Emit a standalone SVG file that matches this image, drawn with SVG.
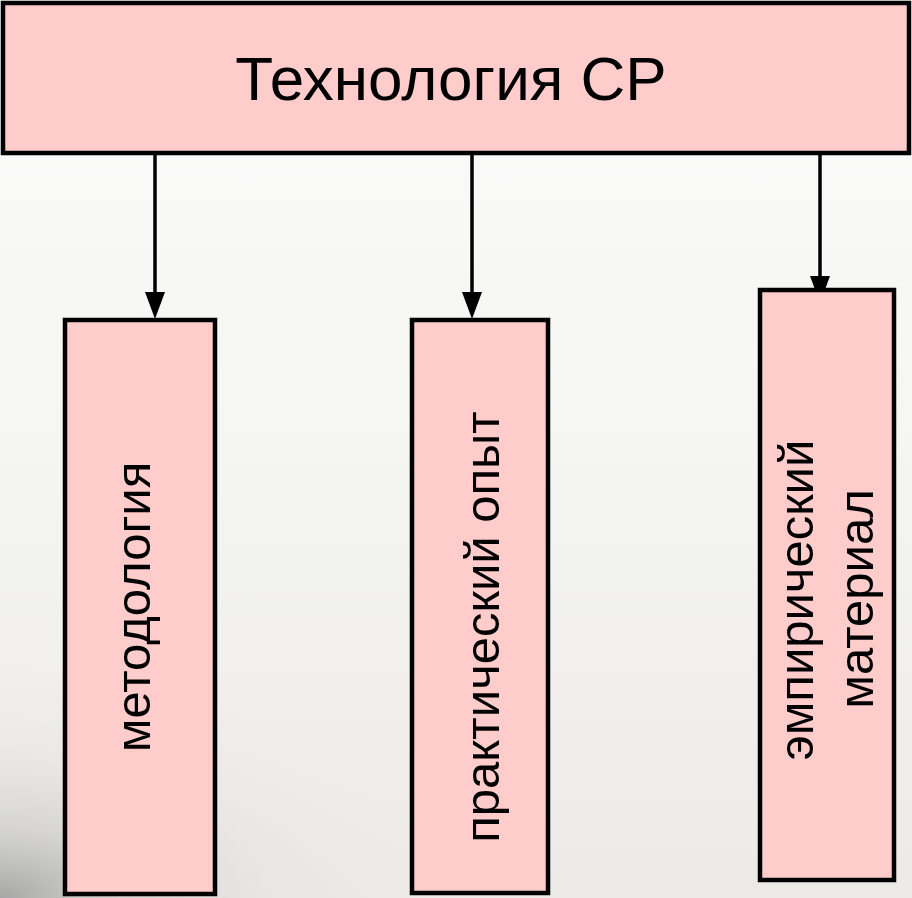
<svg xmlns="http://www.w3.org/2000/svg" width="912" height="898" viewBox="0 0 912 898">
<defs>
<linearGradient id="bg" x1="0" y1="0" x2="0" y2="1">
<stop offset="0" stop-color="#fbfbfb"/>
<stop offset="0.5" stop-color="#f5f5f4"/>
<stop offset="1" stop-color="#ebeae7"/>
</linearGradient>
<radialGradient id="shade" cx="0" cy="898" r="420" gradientUnits="userSpaceOnUse" gradientTransform="translate(0 898) scale(1 0.55) translate(0 -898)">
<stop offset="0" stop-color="#9a9a9a" stop-opacity="0.85"/>
<stop offset="0.3" stop-color="#bdbdbd" stop-opacity="0.5"/>
<stop offset="0.65" stop-color="#d8d8d8" stop-opacity="0.2"/>
<stop offset="1" stop-color="#e6e6e6" stop-opacity="0"/>
</radialGradient>
<style>
.box{fill:#ffcccc;stroke:#000;stroke-width:4.5}
.t{font-family:"Liberation Sans",Arial,sans-serif;fill:#000}
.v{font-size:49px}
.conn{stroke:#000;stroke-width:3.5;fill:none}
.head{fill:#000}
</style>
</defs>
<rect x="0" y="0" width="912" height="898" fill="url(#bg)"/>
<rect x="0" y="500" width="912" height="398" fill="url(#shade)"/>
<g id="connectors">
<line class="conn" x1="155" y1="153" x2="155" y2="296"/>
<path class="head" d="M145,292 L165,292 L155,319 Z"/>
<line class="conn" x1="472" y1="153" x2="472" y2="296"/>
<path class="head" d="M462,292 L482,292 L472,319 Z"/>
<line class="conn" x1="820" y1="153" x2="820" y2="280"/>
<path class="head" d="M810,276 L830,276 L820,303 Z"/>
</g>
<g id="node-top">
<rect class="box" x="3" y="3" width="906" height="150"/>
<text class="t" x="451" y="100" font-size="62" text-anchor="middle">Технология СР</text>
</g>
<g id="node-metodologia">
<rect class="box" x="65" y="320" width="150" height="574"/>
<text class="t v" transform="translate(150 607) rotate(-90)" text-anchor="middle">методология</text>
</g>
<g id="node-opyt">
<rect class="box" x="412" y="320" width="136" height="573"/>
<text class="t v" transform="translate(499 627) rotate(-90)" text-anchor="middle">практический опыт</text>
</g>
<g id="node-material">
<rect class="box" x="760" y="290" width="134" height="590"/>
<text class="t v" transform="translate(813 600) rotate(-90)" text-anchor="middle">эмпирический</text>
<text class="t v" transform="translate(873 599) rotate(-90)" text-anchor="middle">материал</text>
</g>
</svg>
